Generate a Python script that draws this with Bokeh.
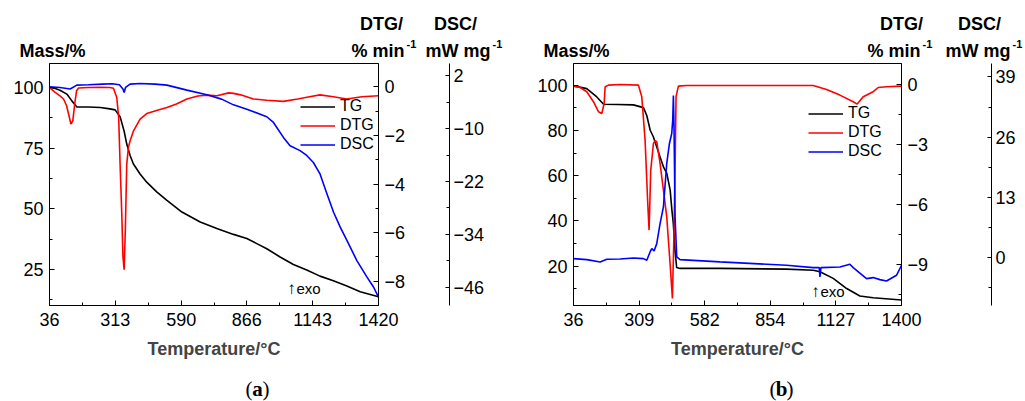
from bokeh.plotting import figure
from bokeh.models import Range1d, LinearAxis, FixedTicker, Label, Legend, LegendItem
from bokeh.layouts import row, column
from bokeh.core.properties import value
from bokeh.embed import file_html
from bokeh.resources import INLINE

FONT = "Liberation Sans"
SERIF = "Liberation Serif"

# ---------------- Panel (a) data ----------------
A_X_TICKS = [36, 313, 590, 866, 1143, 1420]
A_MASS_TICKS = [25, 50, 75, 100]
A_DTG_TICKS = [-8, -6, -4, -2, 0]
A_DSC_TICKS = [-46, -34, -22, -10, 2]

A_TG_T = [36, 60, 80, 109, 130, 151, 200, 250, 290, 312, 333, 350, 361, 375, 389, 417,
          445, 487, 530, 593, 670, 740, 810, 866, 908, 950, 1006, 1062, 1118, 1174,
          1230, 1287, 1343, 1420]
A_TG = [100, 99.6, 98.9, 97.3, 94.5, 92, 92, 91.8, 91.2, 90.8, 88, 82, 76.7, 72, 68.5, 64.4,
        61, 57, 53.5, 48.7, 44.6, 41.9, 39.5, 37.8, 35.7, 33.6, 30.2, 27.1, 24.8, 22.3,
        20.4, 18.2, 15.9, 13.8]

A_DTG_T = [36, 60, 80, 95, 108, 118, 126, 134, 142, 150, 158, 200, 250, 290, 305, 319, 327,
           333, 340, 345, 350, 355, 361, 368, 375, 390, 417, 445, 490, 530, 570, 614, 660,
           698, 740, 790, 810, 840, 894, 950, 1020, 1080, 1130, 1174, 1230, 1287, 1350, 1420]
A_DTG = [-0.03, -0.23, -0.37, -0.5, -0.78, -1.19, -1.53, -1.4, -0.71, -0.16, -0.05, -0.03,
         -0.02, -0.03, -0.06, -0.44, -1.26, -3.2, -5.2, -7.0, -7.53, -5.9, -3.18, -2.49,
         -2.22, -1.8, -1.33, -1.1, -0.96, -0.85, -0.71, -0.5, -0.38, -0.34, -0.37, -0.25,
         -0.27, -0.33, -0.5, -0.55, -0.6, -0.5, -0.41, -0.33, -0.41, -0.5, -0.41, -0.37]

A_DSC_T = [36, 80, 123, 151, 200, 260, 300, 330, 345, 350, 356, 375, 417, 480, 530, 614, 698,
           760, 810, 866, 950, 978, 1020, 1048, 1090, 1118, 1146, 1174, 1203, 1231, 1259,
           1287, 1329, 1371, 1399, 1420]
A_DSC = [-0.5, -0.65, -1.0, -0.12, -0.04, 0.11, 0.19, -0.04, -1.0, -1.8, -0.65, 0.11, 0.26,
         0.11, -0.12, -1.25, -2.3, -3.3, -4.6, -5.6, -7.3, -8.6, -12.0, -13.9, -15.0, -16.1,
         -17.7, -20.3, -24.8, -29.0, -32.4, -35.4, -40.0, -43.7, -46.0, -48.3]

# ---------------- Panel (b) data ----------------
B_X_TICKS = [36, 309, 582, 854, 1127, 1400]
B_MASS_TICKS = [20, 40, 60, 80, 100]
B_DTG_TICKS = [-9, -6, -3, 0]
B_DSC_TICKS = [0, 13, 26, 39]

B_TG_T = [36, 91, 133, 161, 220, 285, 327, 341, 355, 368, 396, 410, 424, 438, 445, 451, 458,
          465, 479, 645, 922, 1033, 1061, 1116, 1172, 1227, 1282, 1400]
B_TG = [99.7, 98.5, 94.8, 91.6, 91.5, 91.3, 90.1, 86.5, 80.1, 77.2, 68.3, 63.9, 61, 53.6, 45,
        38.9, 27, 19.4, 19, 19, 18.7, 18.2, 17.5, 14.6, 10.1, 6.8, 6.0, 5.0]

B_DTG_T = [36, 63.7, 91.4, 119, 139.9, 153.7, 163.4, 167.6, 181.4, 229.9, 306, 319.9, 333.7,
           344.8, 350.3, 357.3, 368.4, 375.3, 382.2, 396, 409.9, 423.7, 437.6, 447.3, 454.2,
           459.7, 462.5, 472.2, 506.8, 1033, 1088.4, 1143.8, 1199.2, 1215.8, 1240.8, 1282.3,
           1303.1, 1337.7, 1400]
B_DTG = [-0.1, -0.17, -0.38, -0.88, -1.38, -1.47, -0.97, -0.13, -0.05, -0.02, -0.05, -0.63,
         -2.8, -5.97, -7.3, -4.3, -2.97, -2.83, -2.88, -3.97, -5.3, -6.63, -8.97, -10.72,
         -7.3, -3.13, -0.63, -0.1, -0.07, -0.07, -0.27, -0.55, -0.88, -1.0, -0.63, -0.38,
         -0.17, -0.13, -0.1]

B_DSC_T = [36, 91.4, 146.8, 174.5, 229.9, 285.3, 326.8, 340.7, 354.5, 361.4, 371.1, 382.2,
           396, 409.9, 423.7, 434.8, 444.5, 448.7, 451.4, 454.2, 458.4, 465.3, 479.1, 645.3,
           922.3, 1033, 1058, 1060.8, 1064.9, 1143.8, 1185.4, 1199.2, 1254.6, 1282.3, 1310,
           1337.7, 1379.2, 1400]
B_DSC = [-0.19, -0.4, -0.9, -0.33, -0.26, -0.04, -0.19, -0.55, 1.25, 1.97, 1.47, 3.05, 7.36,
         10.96, 20.3, 24.6, 26.8, 29.7, 35.0, 27.5, 8.8, 0.17, -0.4, -0.9, -1.62, -2.13,
         -2.13, -4.14, -2.13, -1.98, -1.41, -2.13, -4.5, -4.28, -4.72, -5.0, -3.78, -1.62]

SERIES = ["TG", "DTG", "DSC"]
COLORS = ["black", "red", "blue"]

HEAD_H = 62
MAIN_H = 306
FOOT_H = 33


def mids(t):
    return [(a + b) / 2 for a, b in zip(t, t[1:])]


def minors(ticks):
    t = sorted(ticks)
    s = t[1] - t[0]
    return [t[0] - s / 2 + i * s for i in range(len(t) + 1)]


def style(ax, standoff=6):
    ax.major_tick_in = 5
    ax.major_tick_out = 0
    ax.minor_tick_in = 3
    ax.minor_tick_out = 0
    ax.axis_line_color = "black"
    ax.major_tick_line_color = "black"
    ax.minor_tick_line_color = "black"
    ax.major_label_text_font = FONT
    ax.major_label_text_font_size = "18px"
    ax.major_label_text_color = "black"
    ax.major_label_standoff = standoff


def text_fig(W, Hh):
    f = figure(width=W, height=Hh, x_range=Range1d(0, W), y_range=Range1d(0, Hh),
               output_backend="svg", toolbar_location=None,
               x_axis_location=None, y_axis_location=None, min_border=0,
               frame_align=False)
    f.grid.visible = False
    f.outline_line_color = None
    f.background_fill_color = "white"
    f.border_fill_color = "white"
    return f


def put(f, x, y, text, size, bold=False, align="left", font=FONT):
    f.text(x=[x], y=[y], text=[text], text_font=value(font), text_font_size=value(size),
           text_font_style="bold" if bold else "normal", text_align=align,
           text_baseline="middle", text_color="black")


def header(W, mx, dtgx, minx, dscx, mwx):
    f = text_fig(W, HEAD_H)
    put(f, mx, HEAD_H - 50.5, "Mass/%", "18px", True)
    put(f, dtgx, HEAD_H - 23, "DTG/", "18px", True, "center")
    put(f, minx, HEAD_H - 50.5, "% min", "18px", True, "right")
    put(f, minx + 2, HEAD_H - 43, "-1", "11px", True)
    put(f, dscx, HEAD_H - 23, "DSC/", "18px", True, "center")
    put(f, mwx, HEAD_H - 50.5, "mW mg", "18px", True, "right")
    put(f, mwx + 2, HEAD_H - 43, "-1", "11px", True)
    return f


def footer(W, tag, tx):
    f = text_fig(W, FOOT_H)
    y = FOOT_H - 20
    put(f, tx - 5, y, "(", "21px", False, "right", SERIF)
    put(f, tx, y, tag, "21px", True, "center", SERIF)
    put(f, tx + 5, y, ")", "21px", False, "left", SERIF)
    return f


def main(W, bl, br, xlim, ylim, dtglim, dsclim, xt, yt, dtgt, dsct, data,
         dtg_gap, leg_xy, exo):
    top = 63 - HEAD_H
    p = figure(width=W, height=MAIN_H, x_range=Range1d(*xlim), y_range=Range1d(*ylim),
               output_backend="svg", toolbar_location=None,
               min_border_left=bl, min_border_right=br, min_border_top=top,
               min_border_bottom=MAIN_H - top - 242, frame_align=False)
    p.extra_y_ranges = {"dtg": Range1d(*dtglim), "dsc": Range1d(*dsclim)}
    p.grid.visible = False
    p.outline_line_color = "black"
    p.background_fill_color = "white"
    p.border_fill_color = "white"

    xa = p.xaxis[0]
    style(xa, 7)
    xa.ticker = FixedTicker(ticks=xt, minor_ticks=mids(xt))
    xa.axis_label = "Temperature/°C"
    xa.axis_label_text_font = FONT
    xa.axis_label_text_font_style = "bold"
    xa.axis_label_text_font_size = "18px"
    xa.axis_label_standoff = 10

    ya = p.yaxis[0]
    style(ya, 6)
    ya.ticker = FixedTicker(ticks=yt, minor_ticks=minors(yt))

    dtg_ax = LinearAxis(y_range_name="dtg",
                        ticker=FixedTicker(ticks=dtgt, minor_ticks=minors(dtgt)))
    style(dtg_ax, 6)
    dtg_ax.axis_label = " "
    dtg_ax.axis_label_text_font_size = "10px"
    dtg_ax.axis_label_standoff = dtg_gap
    p.add_layout(dtg_ax, "right")

    dsc_ax = LinearAxis(y_range_name="dsc",
                        ticker=FixedTicker(ticks=dsct, minor_ticks=minors(dsct)))
    style(dsc_ax, 4)
    dsc_ax.major_tick_in = 4
    p.add_layout(dsc_ax, "right")

    rs = []
    for (tx, ty), name, col in zip(data, SERIES, COLORS):
        kw = {}
        if name == "DTG":
            kw["y_range_name"] = "dtg"
        elif name == "DSC":
            kw["y_range_name"] = "dsc"
        rs.append(p.line(tx, ty, line_color=col, line_width=1.6, **kw))

    leg = Legend(items=[LegendItem(label=n, renderers=[r]) for n, r in zip(SERIES, rs)],
                 location=leg_xy, border_line_color=None, background_fill_alpha=0,
                 padding=0, margin=0, spacing=0, glyph_width=35, glyph_height=19,
                 label_height=19, label_standoff=5, label_text_font=FONT,
                 label_text_font_size="16px", label_text_color="black")
    p.add_layout(leg)

    ex, ey = exo
    p.add_layout(Label(x=ex, y=ey - HEAD_H, x_units="canvas", y_units="canvas", text="↑",
                       text_font=FONT, text_font_size="17px", text_align="center",
                       text_baseline="middle", text_color="black"))
    p.add_layout(Label(x=ex + 5, y=ey - HEAD_H, x_units="canvas", y_units="canvas",
                       text="exo", text_font=FONT, text_font_size="15px",
                       text_align="left", text_baseline="middle", text_color="black"))
    return p


WA, WB = 520, 505

pa = main(WA, 49, 142, (36, 1420), (10.2, 109.9), (-9.0, 0.96), (-50.2, 4.8),
          A_X_TICKS, A_MASS_TICKS, A_DTG_TICKS, A_DSC_TICKS,
          [(A_TG_T, A_TG), (A_DTG_T, A_DTG), (A_DSC_T, A_DSC)],
          27, (251, 151.5), (291, 288))
pb = main(WB, 53, 124, (36, 1400), (2.6, 109.6), (-11.07, 1.03), (-10.3, 41.9),
          B_X_TICKS, B_MASS_TICKS, B_DTG_TICKS, B_DSC_TICKS,
          [(B_TG_T, B_TG), (B_DTG_T, B_DTG), (B_DSC_T, B_DSC)],
          46, (235, 144.5), (295, 291))

ha = header(WA, 19, 381, 404, 455, 490)
hb = header(WB, 23, 381, 400, 459, 490)
fa = footer(WA, "a", 257)
fb = footer(WB, "b", 261)

layout = row(column(ha, pa, fa), column(hb, pb, fb))
open("out.html", "w").write(file_html(layout, INLINE))
